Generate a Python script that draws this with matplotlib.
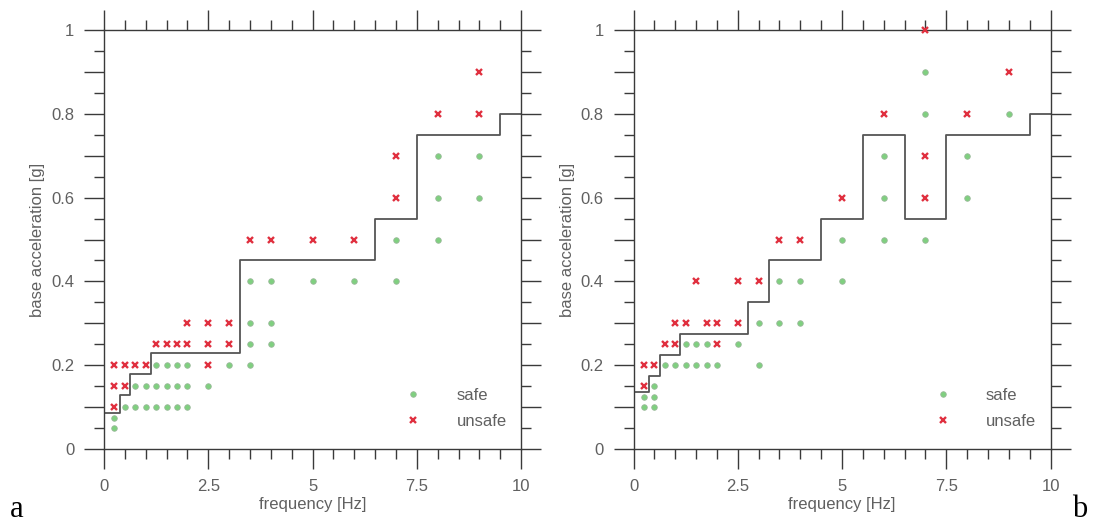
import numpy as np
import matplotlib
matplotlib.use("Agg")
import matplotlib.pyplot as plt
from matplotlib.ticker import MultipleLocator, FuncFormatter

plt.rcParams['font.family'] = ['Liberation Sans', 'DejaVu Sans']

# panel a data (frequency [Hz], base acceleration [g])
a_safe_x = [0.25, 0.25, 0.5, 0.75, 0.75, 1.0, 1.0,
            1.25, 1.25, 1.25, 1.5, 1.5, 1.5, 1.75, 1.75, 1.75,
            2.0, 2.0, 2.0, 2.5, 3.0,
            3.5, 3.5, 3.5, 3.5, 4.0, 4.0, 4.0, 5.0, 6.0,
            7.0, 7.0, 8.0, 8.0, 8.0, 9.0, 9.0]
a_safe_y = [0.075, 0.05, 0.1, 0.15, 0.1, 0.15, 0.1,
            0.2, 0.15, 0.1, 0.2, 0.15, 0.1, 0.2, 0.15, 0.1,
            0.2, 0.15, 0.1, 0.15, 0.2,
            0.4, 0.3, 0.25, 0.2, 0.4, 0.3, 0.25, 0.4, 0.4,
            0.5, 0.4, 0.7, 0.6, 0.5, 0.7, 0.6]
a_unsafe_x = [0.25, 0.25, 0.25, 0.5, 0.5, 0.75, 1.0,
              1.25, 1.5, 1.75, 2.0, 2.0, 2.5, 2.5, 2.5, 3.0, 3.0,
              3.5, 4.0, 5.0, 6.0, 7.0, 7.0, 8.0, 9.0, 9.0]
a_unsafe_y = [0.2, 0.15, 0.1, 0.2, 0.15, 0.2, 0.2,
              0.25, 0.25, 0.25, 0.3, 0.25, 0.3, 0.25, 0.2, 0.3, 0.25,
              0.5, 0.5, 0.5, 0.5, 0.7, 0.6, 0.8, 0.9, 0.8]
a_step_x = [0, 0.375, 0.625, 1.125, 3.25, 6.5, 7.5, 9.5, 10]
a_step_y = [0.085, 0.13, 0.18, 0.23, 0.45, 0.55, 0.75, 0.8, 0.8]

# panel b data
b_safe_x = [0.25, 0.25, 0.5, 0.5, 0.5, 0.75, 1.0, 1.25, 1.25,
            1.5, 1.5, 1.75, 1.75, 2.0, 2.5, 3.0, 3.0,
            3.5, 3.5, 4.0, 4.0, 5.0, 5.0, 6.0, 6.0, 6.0,
            7.0, 7.0, 7.0, 8.0, 8.0, 9.0]
b_safe_y = [0.125, 0.1, 0.15, 0.125, 0.1, 0.2, 0.2, 0.25, 0.2,
            0.25, 0.2, 0.25, 0.2, 0.2, 0.25, 0.3, 0.2,
            0.4, 0.3, 0.4, 0.3, 0.5, 0.4, 0.7, 0.6, 0.5,
            0.9, 0.8, 0.5, 0.7, 0.6, 0.8]
b_unsafe_x = [0.25, 0.25, 0.5, 0.75, 1.0, 1.0, 1.25, 1.5, 1.75, 2.0, 2.0,
              2.5, 2.5, 3.0, 3.5, 4.0, 5.0, 6.0, 7.0, 7.0, 7.0, 8.0, 9.0]
b_unsafe_y = [0.2, 0.15, 0.2, 0.25, 0.3, 0.25, 0.3, 0.4, 0.3, 0.3, 0.25,
              0.4, 0.3, 0.4, 0.5, 0.5, 0.6, 0.8, 1.0, 0.7, 0.6, 0.8, 0.9]
b_step_x = [0, 0.375, 0.625, 1.125, 2.75, 3.25, 4.5, 5.5, 6.5, 7.5, 9.5, 10]
b_step_y = [0.135, 0.175, 0.225, 0.275, 0.35, 0.45, 0.55, 0.75, 0.55, 0.75, 0.8, 0.8]

x_ticks = [0, 2.5, 5, 7.5, 10]
x_labels = ["0", "2.5", "5", "7.5", "10"]

safe_col = '#7fd07f'
unsafe_col = '#e0303f'
axis_col = '#3a3a3a'
text_col = '#606060'
fs = 12


def ylab(v, pos):
    k = int(round(v * 10))
    if k % 2:
        return ""
    if k == 0:
        return "0"
    if k == 10:
        return "1"
    return "%.1f" % v


def panel(ax, sx, sy, ux, uy, stx, sty):
    ax.step(stx, sty, where='post', color='#555555', lw=1.3, zorder=2)
    ax.plot(sx, sy, 'o', ms=4, color=safe_col, mec='#9ab89a', mew=0.6,
            ls='none', label='safe', clip_on=False, zorder=3)
    ax.plot(ux, uy, 'x', ms=5, color=unsafe_col, mew=1.7,
            ls='none', label='unsafe', clip_on=False, zorder=3)
    ax.set_xlim(0, 10)
    ax.set_ylim(0, 1)
    ax.set_xticks(x_ticks)
    ax.set_xticklabels(x_labels)
    ax.xaxis.set_minor_locator(MultipleLocator(0.5))
    ax.yaxis.set_major_locator(MultipleLocator(0.1))
    ax.yaxis.set_minor_locator(MultipleLocator(0.05))
    ax.yaxis.set_major_formatter(FuncFormatter(ylab))
    for s in ax.spines.values():
        s.set_color(axis_col)
        s.set_linewidth(1.0)
    ax.tick_params(which='both', direction='out', top=True, right=True,
                   color=axis_col, width=1.0, labelcolor=text_col,
                   labelsize=fs, pad=7)
    ax.tick_params(which='major', length=14.5)
    ax.tick_params(which='minor', length=7)
    ax.set_xlabel("frequency [Hz]", color=text_col, fontsize=fs, labelpad=2)
    ax.set_ylabel("base acceleration [g]", color=text_col, fontsize=fs, labelpad=4)
    leg = ax.legend(loc='center left', bbox_to_anchor=(0.721, 0.097),
                    frameon=False, borderpad=0, borderaxespad=0,
                    handlelength=1, handletextpad=2.1, labelspacing=0.62,
                    fontsize=fs)
    for t in leg.get_texts():
        t.set_color(text_col)


fig = plt.figure(figsize=(10.94, 5.22), dpi=100)
ax1 = fig.add_axes([0.0951, 0.1398, 0.3812, 0.8027])
ax2 = fig.add_axes([0.5791, 0.1398, 0.3812, 0.8027])

panel(ax1, a_safe_x, a_safe_y, a_unsafe_x, a_unsafe_y, a_step_x, a_step_y)
panel(ax2, b_safe_x, b_safe_y, b_unsafe_x, b_unsafe_y, b_step_x, b_step_y)

fig.text(0.009, 0.01, "a", family='Liberation Serif', fontsize=22, color='black')
fig.text(0.98, 0.01, "b", family='Liberation Serif', fontsize=22, color='black')

fig.savefig("out.png", dpi=100)
